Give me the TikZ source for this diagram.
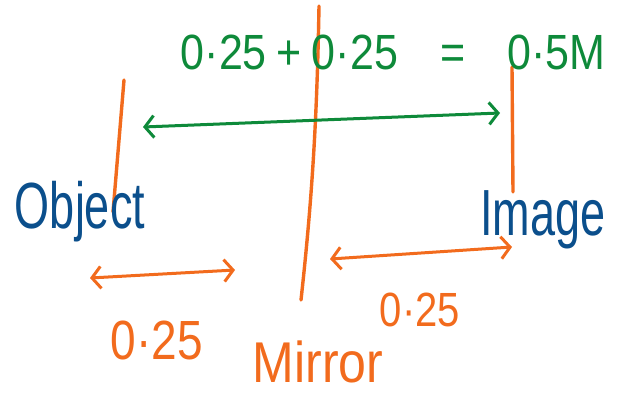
\documentclass[tikz,border=0pt]{standalone}
\usepackage{fontspec}
\setmainfont{Liberation Sans}
\usetikzlibrary{arrows.meta}
\definecolor{orng}{HTML}{F26B1D}
\definecolor{grn}{HTML}{0E8A3A}
\definecolor{blu}{HTML}{0B4F8C}
\tikzset{
  oline/.style={draw=orng,line width=3.4pt,line cap=round},
  garrow/.style={draw=grn,line width=3pt,line cap=round,{Straight Barb[length=9pt,width=22pt]}-{Straight Barb[length=9pt,width=22pt]}},
  oarrow/.style={draw=orng,line width=3pt,line cap=round,{Straight Barb[length=9pt,width=22pt]}-{Straight Barb[length=9pt,width=22pt]}},
  bluetxt/.style={text=blu,inner sep=0pt},
  orngtxt/.style={text=orng,inner sep=0pt},
  grntxt/.style={text=grn,inner sep=0pt}
}
\begin{document}
\begin{tikzpicture}[x=1pt,y=-1pt]
\useasboundingbox (0,0) rectangle (623,397);
% vertical lines
\coordinate (objtop) at (124,80);
\coordinate (objbot) at (113,212);
\coordinate (mirtop) at (319,6);
\coordinate (mirbot) at (301,300);
\coordinate (imgtop) at (512,67);
\coordinate (imgbot) at (513,192);
\draw[oline] (objtop) -- (objbot);
\draw[oline] (mirtop) .. controls (317,120) and (312,200) .. (mirbot);
\draw[oline] (imgtop) -- (imgbot);
% arrows
\coordinate (gl) at (143,127);
\coordinate (gr) at (500,113);
\draw[garrow] (gl) -- (gr);
\coordinate (ol1) at (90,278);
\coordinate (ol2) at (235,270);
\draw[oarrow] (ol1) -- (ol2);
\coordinate (or1) at (330,259);
\coordinate (or2) at (512,247);
\draw[oarrow] (or1) -- (or2);
% labels
\node[bluetxt] (object) at (80,212) {\scalebox{1}[1.45]{\fontsize{45}{50}\selectfont Object}};
\node[bluetxt] (image) at (543,220) {\scalebox{1}[1.45]{\fontsize{45}{50}\selectfont Image}};
\node[orngtxt] (mirror) at (318,362) {\scalebox{1}[1.15]{\fontsize{50}{56}\selectfont Mirror}};
\node[orngtxt] (dl) at (157,340) {\scalebox{1}[1.2]{\fontsize{46}{50}\selectfont 0·25}};
\node[orngtxt] (dr) at (420,310) {\scalebox{1}[1.2]{\fontsize{40}{44}\selectfont 0·25}};
\node[grntxt] (sum) at (393,52) {\scalebox{1}[1.15]{\fontsize{43}{46}\selectfont 0·25\hspace{10pt}+\hspace{10pt}0·25\hspace{42pt}=\hspace{42pt}0·5M}};
\end{tikzpicture}
\end{document}
